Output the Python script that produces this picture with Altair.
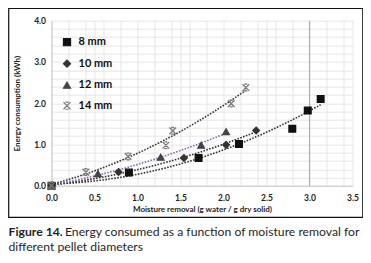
import altair as alt
import pandas as pd

# ---- data ----
series_names = ["8 mm", "10 mm", "12 mm", "14 mm"]
x_8 = [0.0, 0.90, 1.71, 2.18, 2.80, 2.98, 3.13]
y_8 = [0.0, 0.32, 0.67, 1.01, 1.38, 1.82, 2.10]
x_10 = [0.0, 0.78, 1.54, 2.03, 2.38]
y_10 = [0.0, 0.33, 0.67, 0.99, 1.34]
x_12 = [0.0, 0.54, 1.27, 1.74, 2.03]
y_12 = [0.0, 0.29, 0.69, 0.98, 1.31]
x_14 = [0.0, 0.40, 0.89, 1.33, 1.41, 2.09, 2.26]
y_14 = [0.0, 0.33, 0.71, 0.98, 1.33, 1.99, 2.38]

x_ticks = [0.0, 0.2, 0.4, 0.5, 0.6, 0.8, 1.0, 1.2, 1.4, 1.5, 1.6, 1.8, 2.0, 2.2, 2.4,
           2.5, 2.6, 2.8, 3.0, 3.2, 3.4, 3.5]
y_ticks = [0.0, 0.2, 0.4, 0.6, 0.8, 1.0, 1.2, 1.4, 1.6, 1.8, 2.0, 2.2, 2.4, 2.6, 2.8,
           3.0, 3.2, 3.4, 3.6, 3.8, 4.0]
x_highlight = [3.0]

x_title = "Moisture removal (g water / g dry solid)"
y_title = "Energy consumption (kWh)"
caption_bold = "Figure 14."
caption_line1 = "Energy consumed as a function of moisture removal for"
caption_line2 = "different pellet diameters"

point_colors = ["#111111", "#333333", "#444444", "#7a7a7a"]
X_PATH = "M-1,-1L1,1M1,-1L-1,1M-0.45,-1L0.45,-1M-0.45,1L0.45,1"
point_shapes = ["square", "diamond", "triangle-up", X_PATH]

rows = []
for name, xs, ys in zip(series_names, [x_8, x_10, x_12, x_14], [y_8, y_10, y_12, y_14]):
    for a, b in zip(xs, ys):
        rows.append({"series": name, "x": a, "y": b})
df = pd.DataFrame(rows)

FONT = "Lato"
xscale = alt.Scale(domain=[0, 3.5], nice=False, zero=False)
yscale = alt.Scale(domain=[0, 4], nice=False, zero=False)

x_axis = alt.Axis(
    values=x_ticks,
    labelExpr="(datum.value * 2) % 1 == 0 ? format(datum.value, '.1f') : ''",
    title=x_title, grid=True, ticks=False, tickSize=0, labelPadding=8,
    titlePadding=3, labelFlush=False, labelOverlap=False,
    labelFont=FONT, labelFontSize=8.5, labelFontWeight="bold", labelColor="#222",
    titleFont=FONT, titleFontSize=8, titleFontWeight="bold", titleColor="#222",
    domainColor="#c8c8c8", gridColor="#e6e6e6",
)
y_axis = alt.Axis(
    values=y_ticks,
    labelExpr="datum.value % 1 == 0 ? format(datum.value, '.1f') : ''",
    title=y_title, grid=True, ticks=False, tickSize=0, labelPadding=6,
    titlePadding=12, labelFlush=False, labelOverlap=False,
    labelFont=FONT, labelFontSize=8.5, labelFontWeight="bold", labelColor="#222",
    titleFont=FONT, titleFontSize=8, titleFontWeight="bold", titleColor="#222",
    domainColor="#c8c8c8", gridColor="#e6e6e6",
)

X = alt.X("x:Q", scale=xscale, axis=x_axis)
Y = alt.Y("y:Q", scale=yscale, axis=y_axis)

highlight = alt.Chart(pd.DataFrame({"x": x_highlight})).mark_rule(
    color="#a8a8a8", strokeWidth=1
).encode(x=X)

lines = alt.Chart(df).transform_regression(
    "x", "y", method="poly", order=2, groupby=["series"]
).mark_line(strokeDash=[1.6, 1.4], strokeWidth=1.6).encode(
    x=X, y=Y, detail="series:N",
    stroke=alt.condition("datum.series == '12 mm'", alt.value("#8a6bb8"), alt.value("#333333")),
)

legend = alt.Legend(
    title=None, orient="none", legendX=10, legendY=16, padding=0,
    labelFont=FONT, labelFontSize=11, labelFontWeight="bold", labelColor="#111",
    rowPadding=8.5, labelOffset=6, symbolSize=50, symbolStrokeWidth=1.2,
)
dom = alt.Scale(domain=series_names, range=point_colors)
points = alt.Chart(df).mark_point(filled=True, opacity=1, strokeWidth=1.3, size=45).encode(
    x=X, y=Y,
    shape=alt.Shape("series:N", scale=alt.Scale(domain=series_names, range=point_shapes), legend=legend),
    fill=alt.Fill("series:N", scale=dom, legend=legend),
    stroke=alt.Stroke("series:N", scale=dom, legend=legend),
)

frame = alt.Chart(pd.DataFrame({"k": [0]})).mark_rect(
    fill="white", fillOpacity=0, stroke="#111", strokeWidth=1.2
).encode(
    x=alt.value(-42.8), x2=alt.value(311.3), y=alt.value(-12.2), y2=alt.value(196.6)
)

cap_style = dict(align="left", baseline="middle", font=FONT, fontSize=12.2, color="#1f1f1f")
cap1 = alt.Chart(pd.DataFrame({"k": [0]})).mark_text(fontWeight="bold", **cap_style).encode(
    x=alt.value(-43), y=alt.value(211.6), text=alt.value(caption_bold))
cap2 = alt.Chart(pd.DataFrame({"k": [0]})).mark_text(**cap_style).encode(
    x=alt.value(13.5), y=alt.value(211.6), text=alt.value(caption_line1))
cap3 = alt.Chart(pd.DataFrame({"k": [0]})).mark_text(**cap_style).encode(
    x=alt.value(-43), y=alt.value(226), text=alt.value(caption_line2))

chart = alt.layer(highlight, lines, points, frame, cap1, cap2, cap3).properties(
    width=301, height=165,
    autosize=alt.AutoSizeParams(type="none"),
    padding={"left": 43.5, "top": 12.7, "right": 10, "bottom": 77},
    background="white",
).configure_view(stroke="transparent")

chart.save("out.html", embed_options={"renderer": "svg", "actions": False})
